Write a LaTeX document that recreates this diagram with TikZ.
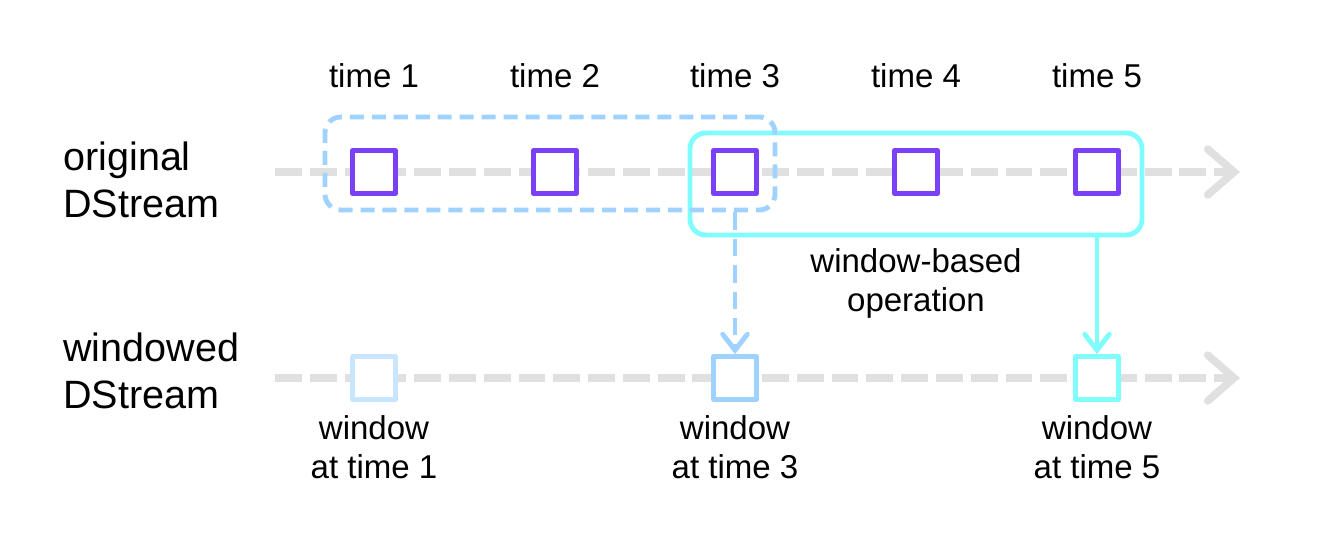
\documentclass[tikz,border=0pt]{standalone}
\usepackage{fontspec}
\setmainfont{Liberation Sans}
\usetikzlibrary{arrows.meta,fit}
\definecolor{purp}{RGB}{122,64,245}
\definecolor{lgray}{RGB}{224,224,224}
\definecolor{lblue}{RGB}{160,210,255}
\definecolor{pblue}{RGB}{200,230,255}
\definecolor{lcyan}{RGB}{128,252,255}
\newcommand{\smallfont}{\fontsize{18.8pt}{22.7pt}\selectfont}
\newcommand{\bigfont}{\fontsize{22.5pt}{27.2pt}\selectfont}
\begin{document}
\begin{tikzpicture}[x=0.02cm, y=-0.02cm, line join=round, font=\smallfont,
	sq/.style={draw=purp, fill=white, line width=2.8pt, minimum size=24.4pt, inner sep=0pt},
	stream/.style={draw=lgray, line width=4.4pt, dash pattern=on 15.3pt off 4.5pt, -{Straight Barb[length=15pt, width=26pt, line cap=round]}},
	win/.style={line width=2.8pt, rounded corners=9pt, inner sep=0pt},
	link/.style={line width=2.8pt, -{Straight Barb[length=9pt, width=14pt, line cap=round]}},
	lbl/.style={anchor=base, align=center, inner sep=0pt}]
	\useasboundingbox (0,0) rectangle (1328,536);
	% streams
	\coordinate (os) at (275,172); \coordinate (oe) at (1240,172);
	\coordinate (ws) at (275,378); \coordinate (we) at (1240,378);
	\draw[stream] (os) -- (oe);
	\draw[stream] (ws) -- (we);
	\node[lbl, font=\bigfont, align=left, anchor=base west] (orig) at (63,218) {original\\DStream};
	\node[lbl, font=\bigfont, align=left, anchor=base west] (wind) at (63,409) {windowed\\DStream};
	% windows
	\coordinate (a5) at (690,133); \coordinate (b5) at (1142,235);
	\node[win, draw=lcyan, fit=(a5)(b5)] (win5) {};
	\coordinate (a3) at (325,117); \coordinate (b3) at (775,210);
	\node[win, draw=lblue, dash pattern=on 8pt off 4.5pt, fit=(a3)(b3)] (win3) {};
	\foreach \i/\x in {1/374,2/555,3/735,4/916,5/1097}{
		\node[lbl] (t\i) at (\x,88) {time \i};
		\node[sq] (o\i) at (\x,172) {};
	}
	\node[sq, draw=pblue] (w1) at (374,378) {};
	\node[sq, draw=lblue] (w3) at (735,378) {};
	\node[sq, draw=lcyan] (w5) at (1097,378) {};
	\draw[link, lblue, dash pattern=on 10pt off 5pt] (win3.south -| w3.north) -- (w3.north);
	\draw[link, lcyan] (win5.south -| w5.north) -- (w5.north);
	\node[lbl] (op) at (916,312) {window-based\\operation};
	\node[lbl] (l1) at (374,479) {window\\at time 1};
	\node[lbl] (l3) at (735,479) {window\\at time 3};
	\node[lbl] (l5) at (1097,479) {window\\at time 5};
\end{tikzpicture}
\end{document}
